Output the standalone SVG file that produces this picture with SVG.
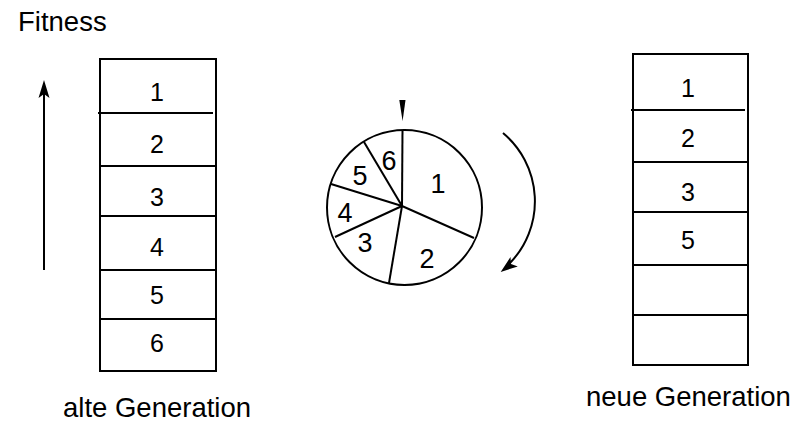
<svg xmlns="http://www.w3.org/2000/svg" width="800" height="422" viewBox="0 0 800 422">
<style>
.ln{stroke:#000;stroke-width:2;fill:none}
.lbl{font-family:"Liberation Sans",Arial,sans-serif;font-size:27.5px;fill:#000}
.dg{font-family:"Liberation Sans",Arial,sans-serif;font-size:25px;fill:#000;text-anchor:middle}
.pd{font-family:"Liberation Sans",Arial,sans-serif;font-size:27px;fill:#000;text-anchor:middle}
</style>
<rect width="800" height="422" fill="#fff"/>
<text class="lbl" x="18" y="31">Fitness</text>
<g id="old-generation">
<rect class="ln" x="100" y="59" width="116" height="312"/>
<line class="ln" x1="98" y1="113" x2="213" y2="113"/>
<line class="ln" x1="100" y1="166" x2="216" y2="166"/>
<line class="ln" x1="100" y1="216" x2="216" y2="216"/>
<line class="ln" x1="100" y1="270" x2="216" y2="270"/>
<line class="ln" x1="100" y1="319" x2="216" y2="319"/>
<text class="dg" x="157" y="101">1</text>
<text class="dg" x="157" y="152.5">2</text>
<text class="dg" x="157" y="205.5">3</text>
<text class="dg" x="157" y="255.5">4</text>
<text class="dg" x="157" y="303.5">5</text>
<text class="dg" x="157" y="351.5">6</text>
<text class="lbl" x="63" y="417">alte Generation</text>
</g>
<g id="new-generation">
<rect class="ln" x="633" y="54" width="115" height="311"/>
<line class="ln" x1="631" y1="110" x2="745" y2="110"/>
<line class="ln" x1="633" y1="162" x2="748" y2="162"/>
<line class="ln" x1="633" y1="212" x2="748" y2="212"/>
<line class="ln" x1="633" y1="265" x2="748" y2="265"/>
<line class="ln" x1="633" y1="315" x2="748" y2="315"/>
<text class="dg" x="688" y="96.5">1</text>
<text class="dg" x="688" y="146.5">2</text>
<text class="dg" x="688" y="200.5">3</text>
<text class="dg" x="688" y="248.5">5</text>
<text class="lbl" x="586" y="406">neue Generation</text>
</g>
<g id="wheel">
<circle class="ln" cx="404.5" cy="207.5" r="77.5"/>
<line class="ln" x1="402" y1="206" x2="402.5" y2="130"/>
<line class="ln" x1="402" y1="206" x2="474" y2="238"/>
<line class="ln" x1="402" y1="206" x2="389" y2="283"/>
<line class="ln" x1="402" y1="206" x2="335" y2="237"/>
<line class="ln" x1="402" y1="206" x2="331" y2="184"/>
<line class="ln" x1="402" y1="206" x2="364" y2="142"/>
<text class="pd" x="389" y="169.5">6</text>
<text class="pd" x="360" y="184.5">5</text>
<text class="pd" x="438" y="192.5">1</text>
<text class="pd" x="345" y="221.5">4</text>
<text class="pd" x="365" y="252">3</text>
<text class="pd" x="427" y="267.5">2</text>
<polygon points="399.3,100 405.5,100 402.6,121" fill="#000"/>
</g>
<g id="connectors">
<line class="ln" x1="44" y1="270" x2="44" y2="93"/>
<polygon points="44,80 38.5,98 44,94 49.5,98" fill="#000"/>
<path class="ln" d="M503,133 A89,89 0 0 1 510,263"/>
<polygon points="500.7,272 510.5,256.9 511,264 517.8,266.4" fill="#000"/>
</g>
</svg>
